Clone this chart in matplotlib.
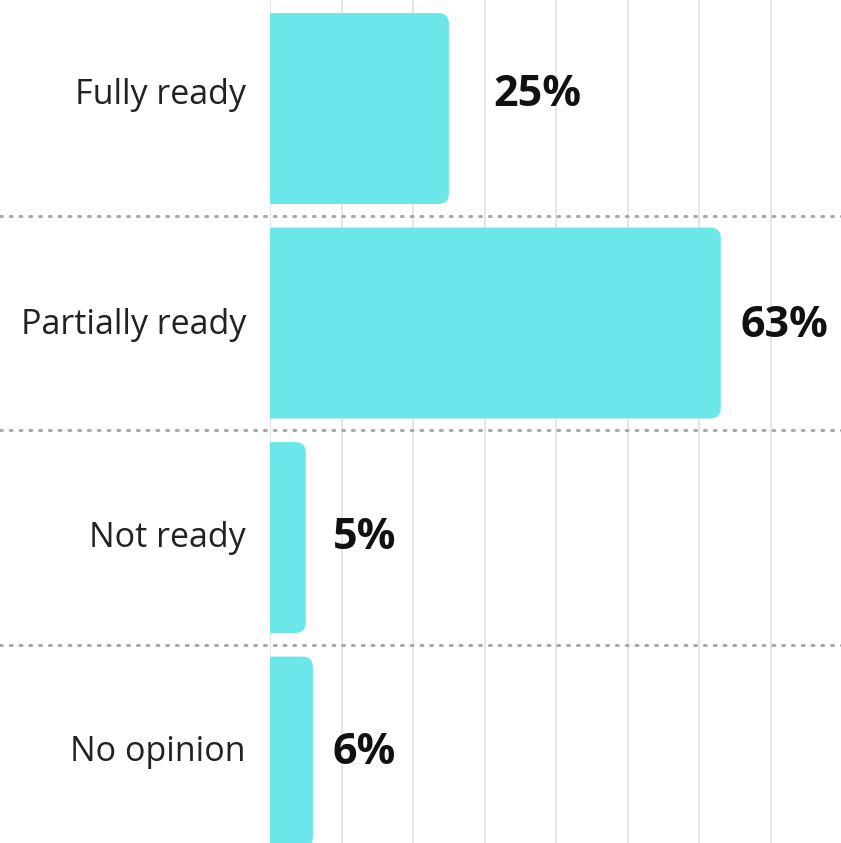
import matplotlib
matplotlib.use("Agg")
import matplotlib.pyplot as plt
from matplotlib.patches import FancyBboxPatch
from matplotlib.transforms import blended_transform_factory
from matplotlib.lines import Line2D

categories = ["Fully ready", "Partially ready", "Not ready", "No opinion"]
values = [25, 63, 5, 6]
value_labels = ["25%", "63%", "5%", "6%"]

# style / placement (not data)
label_x = [31.2, 65.7, 8.8, 8.8]
label_dy = [-0.065, 0.01, 0.0, 0.0]
bar_color = "#6ce6e8"
bar_h = 0.89

W, H = 841, 843
fig = plt.figure(figsize=(W / 100, H / 100), dpi=100)
ax = fig.add_axes([270 / W, 0, 1 - 270 / W, 1])
xmax = 79.8
ax.set_xlim(0, xmax)
ax.set_ylim(3.424, -0.506)
for s in ax.spines.values():
    s.set_visible(False)
ax.set_xticks([])
ax.set_yticks([])

for g in range(0, 90, 10):
    ax.axvline(g, color="#e4e4e4", lw=1.3, zorder=0)

px_per_x = (W - 270) / xmax
px_per_y = H / (3.424 + 0.506)
aspect = px_per_x / px_per_y
r = 1.45
for i, v in enumerate(values):
    p = FancyBboxPatch((-5, i - bar_h / 2), v + 5, bar_h,
                       boxstyle=f"round,pad=0,rounding_size={r}",
                       mutation_aspect=aspect, facecolor=bar_color,
                       edgecolor="none", zorder=2)
    ax.add_patch(p)

fam = ["Open Sans", "DejaVu Sans"]
for i, (c, lab) in enumerate(zip(categories, value_labels)):
    ax.text(-24 / px_per_x, i + label_dy[i], c, ha="right", va="center",
            fontsize=24.5, color="#222222", family=fam, clip_on=False)
    ax.text(label_x[i], i + label_dy[i], lab, ha="left", va="center",
            fontsize=31, fontweight="bold", color="#111111", family=fam)

tr = blended_transform_factory(fig.transFigure, ax.transData)
for y in [0.5, 1.5, 2.5]:
    fig.add_artist(Line2D([0, 1], [y, y], transform=tr, color="#a8a8a8",
                          lw=2.2, linestyle=(0, (0.6, 2.6)),
                          dash_capstyle="round", zorder=3))

fig.savefig("out.png", dpi=100)
